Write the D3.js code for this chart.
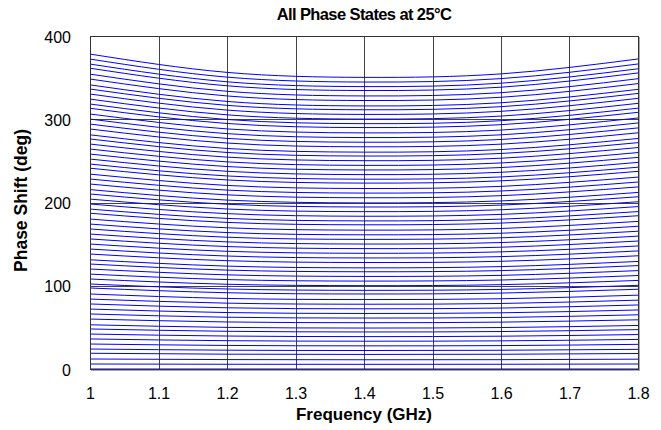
<!DOCTYPE html>
<html>
<head>
<meta charset="utf-8">
<script src="https://cdn.jsdelivr.net/npm/d3@7"></script>
<style>
  body { margin: 0; background: #fff; }
  svg { display: block; font-family: "Liberation Sans", Arial, sans-serif; }
</style>
</head>
<body>
<svg id="chart" width="661" height="430"></svg>
<script>
// Frequencies (GHz) at which phase states were read
const frequencies = [1.0, 1.2, 1.4, 1.6, 1.8];

// Phase shift (deg) of each of the 64 states at each frequency
const phaseAt1_0 = [0, 6.0, 12.0, 18.9, 24.0, 30.0, 36.1, 42.0, 48.1, 53.1, 60.0, 66.1, 72.0, 78.1, 84.0, 90.1,
  97.3, 102.1, 108.1, 114.0, 120.1, 126.1, 131.2, 138.1, 144.1, 150.1, 156.2, 162.1, 168.2, 174.1, 180.1, 187.1,
  192.1, 198.2, 204.1, 210.2, 215.5, 222.2, 228.2, 234.1, 241.2, 246.2, 252.2, 258.2, 264.2, 270.2, 276.3, 281.3,
  288.3, 294.2, 300.2, 306.3, 313.2, 318.3, 324.2, 330.3, 336.3, 341.3, 348.3, 354.2, 361.3, 366.3, 372.3, 378.3];
const phaseAt1_2 = [0, 5.7, 11.3, 17.8, 22.6, 28.3, 34.0, 39.6, 45.3, 50.0, 56.5, 62.2, 67.8, 73.5, 79.1, 84.8,
  91.6, 96.1, 101.8, 107.4, 113.1, 118.8, 123.6, 130.1, 135.7, 141.4, 147.1, 152.7, 158.3, 163.9, 169.6, 176.1,
  180.9, 186.6, 192.2, 197.9, 202.9, 209.2, 214.9, 220.5, 227.1, 231.9, 237.5, 243.2, 248.8, 254.5, 260.1, 264.9,
  271.4, 277.0, 282.7, 288.4, 294.9, 299.7, 305.3, 311.0, 316.7, 321.4, 328.0, 333.6, 340.2, 345.0, 350.6, 356.3];
const phaseAt1_4 = [0, 5.6, 11.1, 17.5, 22.2, 27.8, 33.4, 38.9, 44.5, 49.2, 55.6, 61.2, 66.7, 72.3, 77.8, 83.4,
  90.1, 94.5, 100.1, 105.6, 111.2, 116.8, 121.5, 127.9, 133.4, 139.0, 144.6, 150.1, 155.7, 161.2, 166.8, 173.2,
  177.9, 183.5, 189.0, 194.6, 199.5, 205.7, 211.3, 216.8, 223.3, 228.0, 233.5, 239.1, 244.6, 250.2, 255.8, 260.5,
  266.9, 272.4, 278.0, 283.6, 290.0, 294.7, 300.2, 305.8, 311.4, 316.0, 322.5, 328.0, 334.5, 339.2, 344.7, 350.3];
const phaseAt1_6 = [0, 5.7, 11.2, 17.7, 22.5, 28.1, 33.8, 39.4, 45.0, 49.8, 56.3, 61.9, 67.5, 73.2, 78.7, 84.4,
  91.2, 95.6, 101.3, 106.9, 112.5, 118.2, 123.0, 129.4, 135.0, 140.7, 146.3, 151.9, 157.6, 163.1, 168.8, 175.3,
  180.0, 185.7, 191.3, 196.9, 201.9, 208.2, 213.8, 219.4, 226.0, 230.7, 236.3, 242.0, 247.5, 253.2, 258.9, 263.6,
  270.1, 275.7, 281.3, 287.0, 293.5, 298.2, 303.8, 309.5, 315.1, 319.8, 326.4, 331.9, 338.5, 343.3, 348.8, 354.5];
const phaseAt1_8 = [0, 6.0, 11.8, 18.6, 23.6, 29.6, 35.5, 41.4, 47.3, 52.3, 59.1, 65.1, 70.9, 76.9, 82.7, 88.7,
  95.8, 100.5, 106.4, 112.3, 118.2, 124.2, 129.2, 136.0, 141.8, 147.8, 153.7, 159.6, 165.5, 171.4, 177.3, 184.1,
  189.1, 195.1, 200.9, 206.9, 212.1, 218.7, 224.6, 230.5, 237.4, 242.4, 248.2, 254.2, 260.0, 266.0, 271.9, 276.9,
  283.7, 289.6, 295.5, 301.5, 308.3, 313.3, 319.1, 325.1, 331.0, 335.9, 342.8, 348.7, 355.6, 360.6, 366.4, 372.4];

const xTickValues = [1, 1.1, 1.2, 1.3, 1.4, 1.5, 1.6, 1.7, 1.8];
const xTickLabels = ["1", "1.1", "1.2", "1.3", "1.4", "1.5", "1.6", "1.7", "1.8"];
const yTickValues = [0, 100, 200, 300, 400];
const yTickLabels = ["0", "100", "200", "300", "400"];

const titleText = "All Phase States at 25\u00B0C";
const xTitle = "Frequency (GHz)";
const yTitle = "Phase Shift (deg)";

// ---- build series ----
const columns = [phaseAt1_0, phaseAt1_2, phaseAt1_4, phaseAt1_6, phaseAt1_8];
const series = phaseAt1_4.map((_, i) => frequencies.map((f, j) => ({ f, v: columns[j][i] })));

const svg = d3.select("#chart");
const margin = { left: 90, right: 23, top: 36, bottom: 61 };
const W = 661, H = 430;
const x = d3.scaleLinear().domain([1, 1.8]).range([margin.left, W - margin.right]);
const y = d3.scaleLinear().domain([0, 400]).range([H - margin.bottom, margin.top]);

// grid
const gridColor = "#444";
svg.append("g").selectAll("line").data(xTickValues.slice(1, -1)).join("line")
  .attr("x1", d => Math.round(x(d)) + 0.5).attr("x2", d => Math.round(x(d)) + 0.5)
  .attr("y1", y(400)).attr("y2", y(0))
  .attr("stroke", gridColor).attr("stroke-width", 1);
svg.append("g").selectAll("line").data(yTickValues.slice(1, -1)).join("line")
  .attr("y1", d => Math.round(y(d)) + 0.5).attr("y2", d => Math.round(y(d)) + 0.5)
  .attr("x1", x(1)).attr("x2", x(1.8))
  .attr("stroke", gridColor).attr("stroke-width", 1);

// clip
svg.append("clipPath").attr("id", "clip").append("rect")
  .attr("x", x(1)).attr("y", y(400)).attr("width", x(1.8) - x(1)).attr("height", y(0) - y(400));

// lines
const line = d3.line().x(d => x(d.f)).y(d => y(d.v)).curve(d3.curveNatural);
svg.append("g").attr("clip-path", "url(#clip)")
  .selectAll("path").data(series).join("path")
  .attr("d", line)
  .attr("fill", "none")
  .attr("stroke", "#0000ff")
  .attr("stroke-width", 1);

// frame
svg.append("rect")
  .attr("x", Math.round(x(1)) + 0.5).attr("y", Math.round(y(400)) + 0.5)
  .attr("width", Math.round(x(1.8)) - Math.round(x(1)))
  .attr("height", Math.round(y(0)) - Math.round(y(400)))
  .attr("fill", "none").attr("stroke", "#333").attr("stroke-width", 1);
svg.append("line")
  .attr("x1", Math.round(x(1.8)) + 1.5).attr("x2", Math.round(x(1.8)) + 1.5)
  .attr("y1", Math.round(y(400)) + 1).attr("y2", Math.round(y(0)) + 2)
  .attr("stroke", "#aaa").attr("stroke-width", 1);
svg.append("line")
  .attr("x1", Math.round(x(1)) + 1).attr("x2", Math.round(x(1.8)) + 2)
  .attr("y1", Math.round(y(0)) + 1.5).attr("y2", Math.round(y(0)) + 1.5)
  .attr("stroke", "#aaa").attr("stroke-width", 1);

// axes (text only, via d3 axes)
const xAxis = d3.axisBottom(x).tickValues(xTickValues).tickFormat((d, i) => xTickLabels[i]).tickSize(0).tickPadding(0);
const gx = svg.append("g").attr("transform", `translate(0,${y(0) + 19})`).call(xAxis);
gx.select(".domain").remove();
gx.selectAll("text").attr("font-size", 16).attr("fill", "#000").attr("font-family", "Liberation Sans, Arial, sans-serif");

const yAxis = d3.axisLeft(y).tickValues(yTickValues).tickFormat((d, i) => yTickLabels[i]).tickSize(0).tickPadding(0);
const gy = svg.append("g").attr("transform", `translate(${x(1) - 19},1)`).call(yAxis);
gy.select(".domain").remove();
gy.selectAll("text").attr("font-size", 16).attr("fill", "#000").attr("font-family", "Liberation Sans, Arial, sans-serif");

// titles
svg.append("text").attr("x", 364).attr("y", 20).attr("text-anchor", "middle")
  .attr("font-size", 16.5).attr("letter-spacing", -0.6).attr("font-weight", "bold").text(titleText);
svg.append("text").attr("x", 364).attr("y", 420).attr("text-anchor", "middle")
  .attr("font-size", 17).attr("font-weight", "bold").text(xTitle);
svg.append("text").attr("transform", `translate(27,${(y(0) + y(400)) / 2 - 2}) rotate(-90)`)
  .attr("text-anchor", "middle").attr("font-size", 17.5).attr("font-weight", "bold").text(yTitle);
</script>
</body>
</html>
